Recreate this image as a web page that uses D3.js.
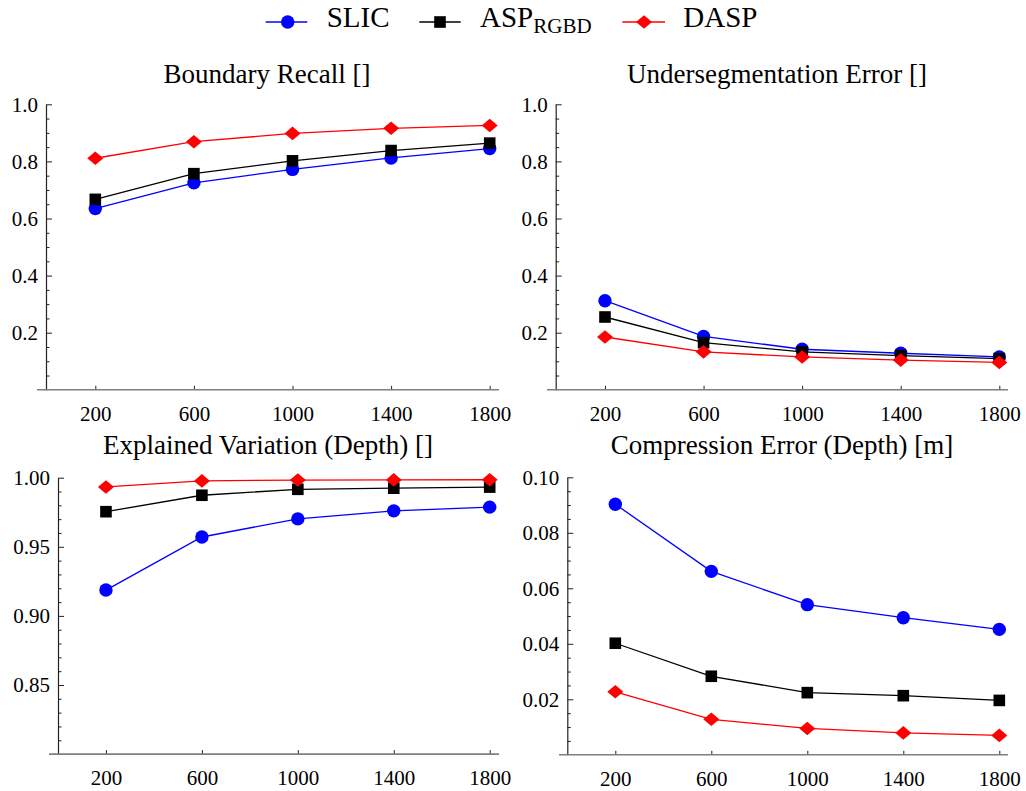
<!DOCTYPE html>
<html>
<head>
<meta charset="utf-8">
<script src="https://cdn.jsdelivr.net/npm/d3@7"></script>
<style>
  html, body { margin: 0; padding: 0; background: #fff; }
  svg text { font-family: "Liberation Serif", "DejaVu Serif", serif !important; fill: #000; }
</style>
</head>
<body>
<svg id="chart" width="1026" height="791"></svg>
<script>
// ---------------- DATA ----------------
const categories = [200, 600, 1000, 1400, 1800];
const seriesNames = ["SLIC", "ASP", "DASP"];
const seriesColors = ["#0000ff", "#000000", "#ff0000"];

const boundaryRecallSLIC = [0.635, 0.725, 0.772, 0.812, 0.845];
const boundaryRecallASP  = [0.667, 0.757, 0.802, 0.838, 0.864];
const boundaryRecallDASP = [0.811, 0.869, 0.898, 0.916, 0.926];

const underSegSLIC = [0.312, 0.187, 0.142, 0.128, 0.115];
const underSegASP  = [0.255, 0.165, 0.133, 0.120, 0.109];
const underSegDASP = [0.185, 0.133, 0.115, 0.104, 0.096];

const explVarSLIC = [0.9187, 0.9571, 0.9702, 0.9760, 0.9787];
const explVarASP  = [0.9754, 0.9873, 0.9916, 0.9924, 0.9932];
const explVarDASP = [0.9933, 0.9977, 0.9983, 0.9984, 0.9985];

const compErrSLIC = [0.0903, 0.0661, 0.0541, 0.0494, 0.0452];
const compErrASP  = [0.0402, 0.0283, 0.0224, 0.0213, 0.0196];
const compErrDASP = [0.0227, 0.0128, 0.0095, 0.0079, 0.0070];

const titles = [
  "Boundary Recall []",
  "Undersegmentation Error []",
  "Explained Variation (Depth) []",
  "Compression Error (Depth) [m]"
];
const yMajorTicks = [
  [0.2, 0.4, 0.6, 0.8, 1.0],
  [0.2, 0.4, 0.6, 0.8, 1.0],
  [0.85, 0.90, 0.95, 1.00],
  [0.02, 0.04, 0.06, 0.08, 0.10]
];
const yMinorStep = [0.05, 0.05, 0.01, 0.005];
const yDomains = [[0, 1], [0, 1], [0.8, 1.0], [0, 0.1]];
const yFormats = [".1f", ".1f", ".2f", ".2f"];

// ---------------- LAYOUT ----------------
const FONT = '"Liberation Serif", "DejaVu Serif", serif';
const panels = [
  { title: titles[0], data: [boundaryRecallSLIC, boundaryRecallASP, boundaryRecallDASP],
    left: 46, right: 489.7, top: 104.3, bottom: 389.8, axStart: 37, axEnd: 499, titleX: 267, titleY: 83 },
  { title: titles[1], data: [underSegSLIC, underSegASP, underSegDASP],
    left: 555.7, right: 999.3, top: 104.3, bottom: 389.8, axStart: 547, axEnd: 1008, titleX: 777, titleY: 83 },
  { title: titles[2], data: [explVarSLIC, explVarASP, explVarDASP],
    left: 58, right: 489.7, top: 477.7, bottom: 754.1, axStart: 49, axEnd: 499, titleX: 268, titleY: 454 },
  { title: titles[3], data: [compErrSLIC, compErrASP, compErrDASP],
    left: 567.3, right: 999.3, top: 477.3, bottom: 754.8, axStart: 559, axEnd: 1008, titleX: 782, titleY: 454 }
];

const svg = d3.select("#chart").attr("font-family", FONT);

function drawMarker(g, kind, color, cx, cy) {
  if (kind === 0) {
    g.append("circle").attr("cx", cx).attr("cy", cy).attr("r", 6.7).attr("fill", color);
  } else if (kind === 1) {
    g.append("rect").attr("x", cx - 5.8).attr("y", cy - 5.8).attr("width", 11.6).attr("height", 11.6).attr("fill", color);
  } else {
    g.append("path")
      .attr("d", `M${cx - 8},${cy} L${cx},${cy - 6.8} L${cx + 8},${cy} L${cx},${cy + 6.8} Z`)
      .attr("fill", color);
  }
}

panels.forEach((p, i) => {
  const x = d3.scaleLinear().domain([0, 1800]).range([p.left, p.right]);
  const y = d3.scaleLinear().domain(yDomains[i]).range([p.bottom, p.top]);
  const g = svg.append("g");

  // title
  g.append("text").attr("x", p.titleX).attr("y", p.titleY)
    .attr("text-anchor", "middle").style("font-family", FONT).style("font-size", "27px").text(p.title);

  // minor y ticks
  const d0 = yDomains[i][0], d1 = yDomains[i][1], st = yMinorStep[i];
  const minor = [];
  for (let k = 1; d0 + k * st < d1 + 1e-9; k++) {
    const v = +(d0 + k * st).toFixed(4);
    if (!yMajorTicks[i].some(m => Math.abs(m - v) < 1e-6)) minor.push(v);
  }
  const yMinorAxis = d3.axisLeft(y).tickValues(minor).tickSize(-3.5).tickSizeOuter(0).tickFormat("");
  const gm = g.append("g").attr("transform", `translate(${p.left},0)`).call(yMinorAxis);
  gm.select(".domain").remove();
  gm.selectAll("line").attr("stroke", "#222").attr("stroke-width", 1);

  // major y ticks
  const yAxis = d3.axisLeft(y).tickValues(yMajorTicks[i]).tickSize(-6).tickSizeOuter(0)
    .tickPadding(8).tickFormat(d3.format(yFormats[i]));
  const gy = g.append("g").attr("transform", `translate(${p.left},0)`).call(yAxis).attr("font-family", FONT);
  gy.select(".domain").attr("stroke", "#222").attr("stroke-width", 1.2);
  gy.selectAll("line").attr("stroke", "#222").attr("stroke-width", 1);
  gy.selectAll("text").style("font-family", FONT).style("font-size", "21px");

  // x axis
  const xAxis = d3.axisBottom(x).tickValues(categories).tickSize(-4).tickSizeOuter(0)
    .tickPadding(16).tickFormat(d3.format("d"));
  const gx = g.append("g").attr("transform", `translate(0,${p.bottom})`).call(xAxis).attr("font-family", FONT);
  gx.select(".domain").remove();
  gx.append("line").attr("x1", p.axStart).attr("x2", p.axEnd).attr("y1", 0).attr("y2", 0)
    .attr("stroke", "#7f7f7f").attr("stroke-width", 1.6);
  gx.selectAll(".tick line").attr("stroke", "#222").attr("stroke-width", 1);
  gx.selectAll("text").style("font-family", FONT).style("font-size", "21px");

  // series
  const line = d3.line().x((d, j) => x(categories[j])).y(d => y(d));
  p.data.forEach((vals, s) => {
    g.append("path").datum(vals).attr("d", line)
      .attr("fill", "none").attr("stroke", seriesColors[s]).attr("stroke-width", 1.3);
  });
  p.data.forEach((vals, s) => {
    vals.forEach((v, j) => drawMarker(g, s, seriesColors[s], x(categories[j]), y(v)));
  });
});

// ---------------- LEGEND ----------------
const legendItems = [
  { x1: 265.7, x2: 307.3, mx: 287.7, tx: 326.7 },
  { x1: 419.3, x2: 460.7, mx: 440, tx: 480 },
  { x1: 622.3, x2: 665, mx: 644, tx: 683.3 }
];
const lg = svg.append("g");
legendItems.forEach((it, s) => {
  lg.append("line").attr("x1", it.x1).attr("x2", it.x2).attr("y1", 22).attr("y2", 22)
    .attr("stroke", seriesColors[s]).attr("stroke-width", 1.3);
  drawMarker(lg, s, seriesColors[s], it.mx, 22);
  const t = lg.append("text").attr("x", it.tx).attr("y", 27)
    .style("font-family", FONT).style("font-size", "29px");
  if (seriesNames[s] === "ASP") {
    t.append("tspan").text("ASP");
    t.append("tspan").attr("dy", 5.6).style("font-size", "21px").text("RGBD");
  } else {
    t.text(seriesNames[s]);
  }
});
</script>
</body>
</html>
